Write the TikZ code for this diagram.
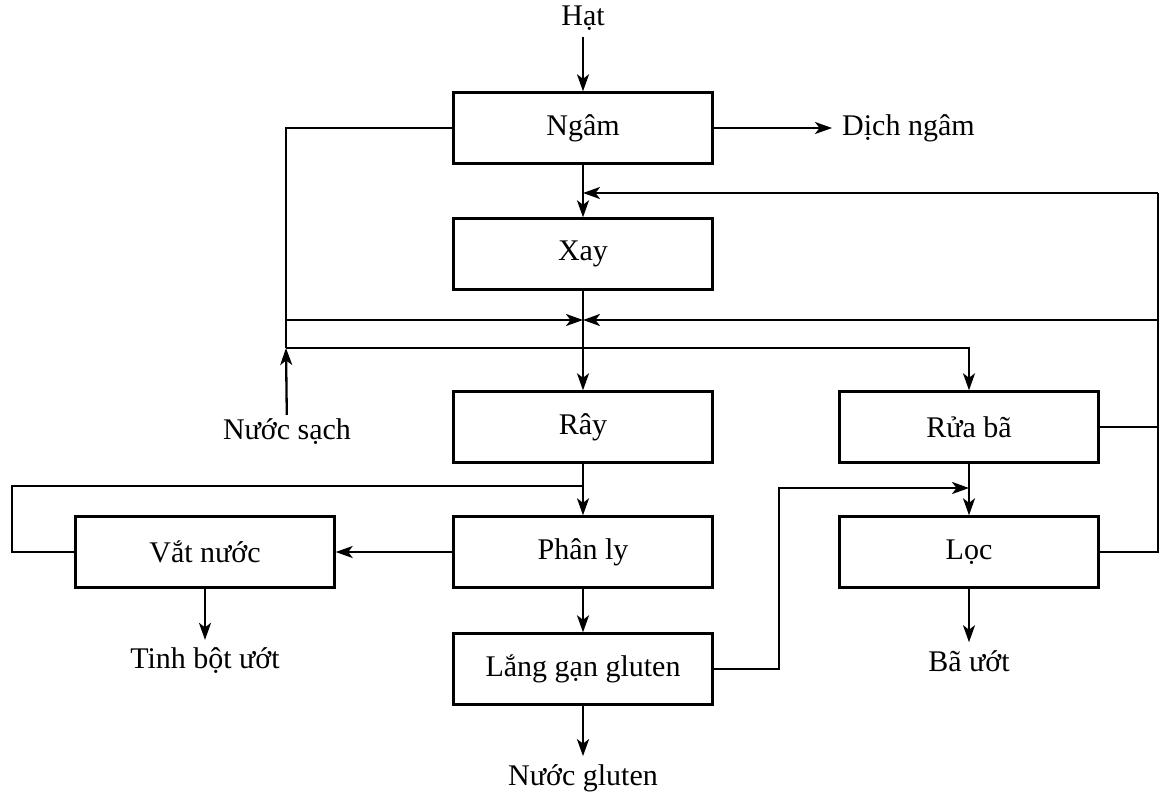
\documentclass[tikz,border=0pt]{standalone}
\usepackage{fontspec}
\setmainfont{Liberation Serif}
\usetikzlibrary{arrows.meta}
\begin{document}
\begin{tikzpicture}[x=1pt,y=-1pt,
  every node/.style={font=\fontsize{30}{36}\selectfont},
  proc/.style={draw,line width=2.4pt,minimum width=259pt,minimum height=71pt,inner sep=0pt},
  lbl/.style={inner sep=2pt},
  conn/.style={line width=2.3pt},
  arr/.style={conn,-{Stealth[length=17pt,width=12pt,inset=4.5pt]}}]
\useasboundingbox (0,0) rectangle (1161,796);
% process boxes
\node[proc] (ngam) at (583,128) {Ngâm};
\node[proc] (xay) at (583,254) {Xay};
\node[proc] (ray) at (583,427) {Rây};
\node[proc] (rua) at (969,427) {Rửa bã};
\node[proc] (phanly) at (583,552) {Phân ly};
\node[proc] (vat) at (205,552) {Vắt nước};
\node[proc] (loc) at (969,552) {Lọc};
\node[proc] (lang) at (583,669) {Lắng gạn gluten};
% text labels
\node[lbl] (hat) at (583,18) {Hạt};
\node[lbl,anchor=west] (dich) at (840,128) {Dịch ngâm};
\node[lbl] (nuocsach) at (287,432) {Nước sạch};
\node[lbl] (tinhbot) at (205,661) {Tinh bột ướt};
\node[lbl] (bauot) at (969,661) {Bã ướt};
\node[lbl] (nuocgluten) at (583,778) {Nước gluten};
% junction coordinates
\coordinate (wL2) at (286,320);
\coordinate (wL3) at (286,348);
\coordinate (mid320) at (583,320);
\coordinate (mid193) at (583,193);
\coordinate (mid486) at (583,486);
\coordinate (rR1) at (1158,193);
\coordinate (rR2) at (1158,320);
\coordinate (lL2) at (12,486);
\coordinate (gR2) at (779,488);
\coordinate (gR3) at (969,488);
% main column
\draw[arr,shorten <=4pt] (hat) -- (ngam);
\draw[arr,shorten >=8pt] (ngam.east) -- (dich.west);
\draw[arr] (ngam) -- (xay);
\draw[arr] (xay) -- (ray);
\draw[arr] (ray) -- (phanly);
\draw[arr] (phanly) -- (lang);
\draw[arr,shorten >=6pt] (lang) -- (nuocgluten);
% clean water / steep water lines
\draw[conn] (ngam.west) -| (wL3);
\draw[arr] (wL2) -- (mid320);
\draw[arr,shorten <=2pt] (nuocsach) -- (wL3);
\draw[arr] (wL3) -| (rua.north);
% return loop on the right
\draw[conn] (rua.east) -- (rua.east -| rR1);
\draw[conn] (loc.east) -| (rR1);
\draw[arr] (rR1) -- (mid193);
\draw[arr] (rR2) -- (mid320);
% left loop
\draw[conn] (vat.west) -| (lL2) -- (mid486);
\draw[arr] (phanly.west) -- (vat.east);
\draw[arr,shorten >=6pt] (vat) -- (tinhbot);
% gluten to filter
\draw[arr] (lang.east) -| (gR2) -- (gR3);
\draw[arr] (rua) -- (loc);
\draw[arr,shorten >=6pt] (loc) -- (bauot);
\end{tikzpicture}
\end{document}
